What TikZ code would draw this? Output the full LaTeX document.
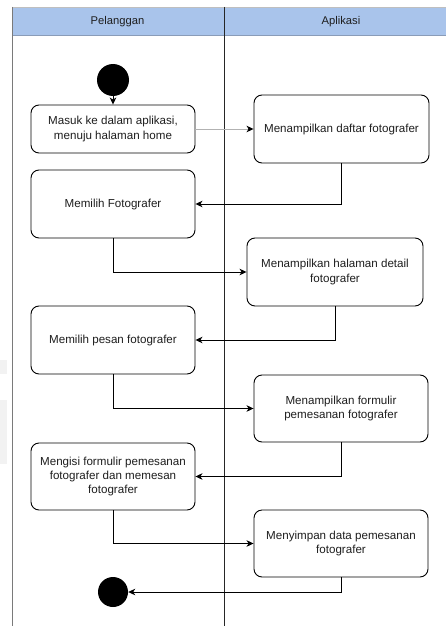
\documentclass[tikz,border=0pt]{standalone}
\usepackage{fontspec}
\setmainfont{Liberation Sans}
\usetikzlibrary{arrows.meta}
\definecolor{hdrfill}{HTML}{A9C4EB}
\definecolor{hdrline}{HTML}{8A9CB8}
\definecolor{lanegray}{HTML}{7A7A7A}
\definecolor{txt}{HTML}{1E1E1E}
\tikzset{
  act/.style={draw=black, line width=0.9pt, rounded corners=8pt, fill=white,
    align=center, font=\fontsize{11.6}{14.2}\selectfont, text=txt, inner sep=2pt},
  dot/.style={circle, fill=black, draw=none, inner sep=0pt},
  flow/.style={draw=black, line width=0.9pt, -{Stealth[length=7pt,width=6.5pt,inset=2pt,color=black]}},
  lanehead/.style={font=\fontsize{11.2}{13}\selectfont, text=txt}
}
\begin{document}
\begin{tikzpicture}[x=1pt, y=-1pt]
\useasboundingbox (0,0) rectangle (446,626);
\fill[white] (0,0) rectangle (446,626);
% faint backdrop patches at the left margin
\fill[black!5] (0,360) rectangle (7,374);
\fill[black!5] (0,400) rectangle (7,464);
% swimlane header
\fill[hdrfill] (12,7) rectangle (446,36);
\draw[black!25, line width=0.8pt] (12,7) -- (446,7);
\draw[hdrline, line width=1pt] (12,36) -- (446,36);
\node[lanehead] (hP) at (117.5,22) {Pelanggan};
\node[lanehead] (hA) at (341,22) {Aplikasi};
% lane borders
\draw[lanegray, line width=1pt] (12,7) -- (12,626);
\draw[black!85, line width=1pt] (224,7) -- (224,626);

% start and end
\node[dot, minimum size=32pt] (start) at (113,80) {};
\node[dot, minimum size=30pt] (stop) at (113,592) {};

% customer actions
\node[act, minimum width=164pt, minimum height=48pt] (b1) at (113,129)
  {Masuk ke dalam aplikasi,\\menuju halaman home};
\node[act, minimum width=164pt, minimum height=68pt] (b2) at (113,204)
  {Memilih Fotografer};
\node[act, minimum width=164pt, minimum height=68pt] (b3) at (113,340)
  {Memilih pesan fotografer};
\node[act, minimum width=164pt, minimum height=67pt] (b4) at (113,476.5)
  {Mengisi formulir pemesanan\\fotografer dan memesan\\fotografer};

% application actions
\node[act, minimum width=175pt, minimum height=68pt] (a1) at (341.5,129)
  {Menampilkan daftar fotografer};
\node[act, minimum width=176pt, minimum height=68pt] (a2) at (335,272)
  {Menampilkan halaman detail\\fotografer};
\node[act, minimum width=174pt, minimum height=67pt] (a3) at (341,408.5)
  {Menampilkan formulir\\pemesanan fotografer};
\node[act, minimum width=174pt, minimum height=67pt] (a4) at (341,543.5)
  {Menyimpan data pemesanan\\fotografer};

% flow
\draw[flow] (start) -- (b1);
\draw[flow, draw=black!30] (b1) -- (a1);
\draw[flow] (a1.south) |- (b2.east);
\draw[flow] (b2.south) |- (a2.west);
\draw[flow] (a2.south) |- (b3.east);
\draw[flow] (b3.south) |- (a3.west);
\draw[flow] (a3.south) |- (b4.east);
\draw[flow] (b4.south) |- (a4.west);
\draw[flow] (a4.south) |- (stop.east);
\end{tikzpicture}
\end{document}
